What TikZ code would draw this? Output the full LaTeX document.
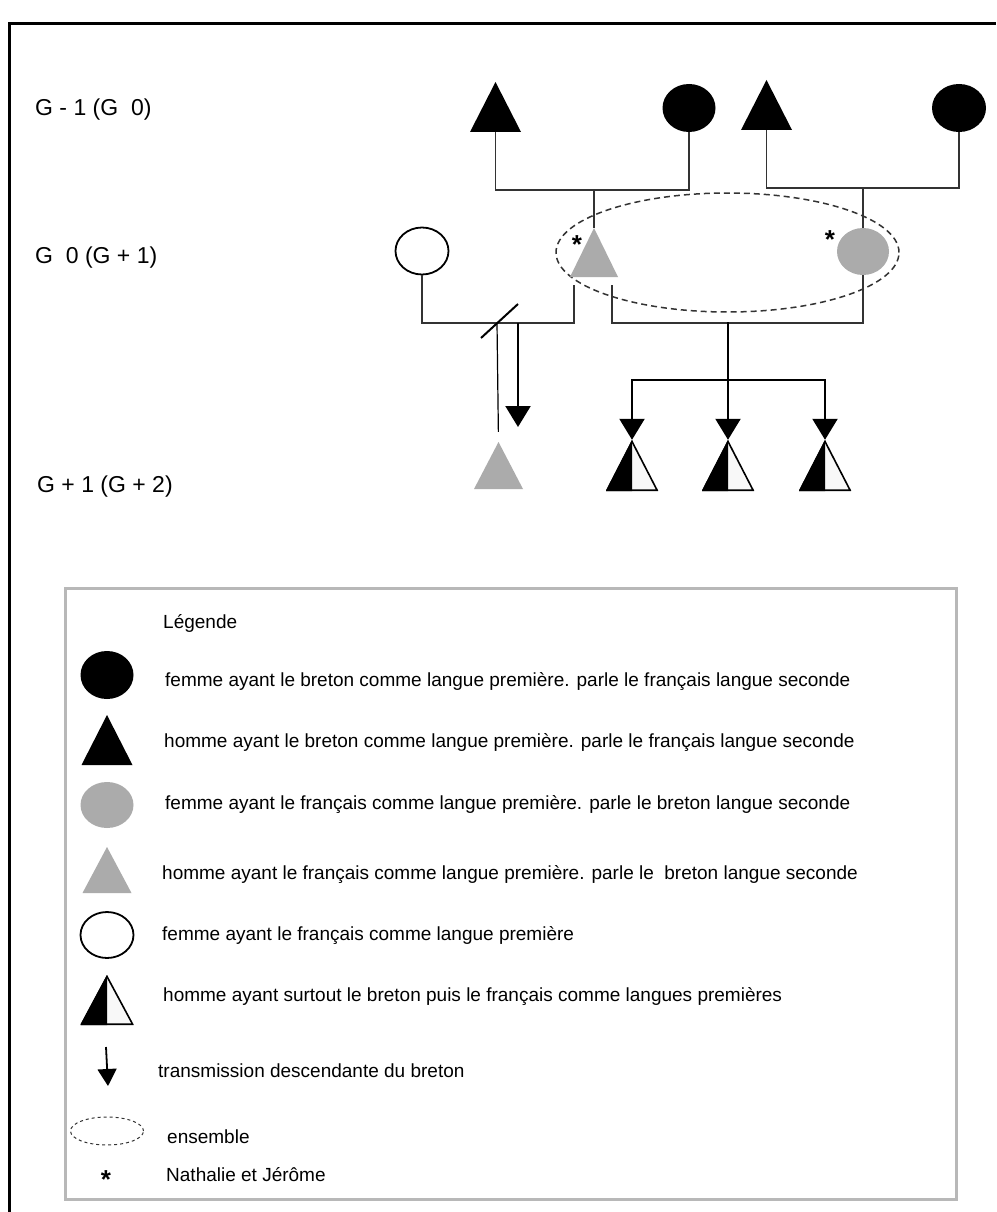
\documentclass[tikz,border=0pt]{standalone}
\usepackage{fontspec}
\setmainfont{Liberation Sans}
\usetikzlibrary{shapes.geometric}
\usetikzlibrary{arrows.meta}
\usetikzlibrary{calc}

\definecolor{gris}{HTML}{ABABAB}
\definecolor{trait}{HTML}{333333}
\definecolor{cadre}{HTML}{B8B8B8}
\definecolor{blanccasse}{HTML}{F8F8F8}

\tikzstyle{femme} = [ellipse, inner sep=0pt, minimum width=53pt, minimum height=48pt]
\tikzstyle{lien} = [draw=trait, line width=1.5pt]
\tikzstyle{lienfort} = [draw=black, line width=2.2pt, line cap=rect]
\tikzstyle{fleche} = [lienfort, line cap=butt, -{Triangle[width=25pt,length=21pt]}]
\tikzstyle{generation} = [anchor=west, inner sep=0pt, font=\fontsize{23}{27}\selectfont]
\tikzstyle{legende} = [anchor=west, inner sep=0pt, font=\fontsize{19}{23}\selectfont]
\tikzstyle{etoile} = [anchor=base, inner sep=0pt, font=\fontsize{26}{30}\selectfont\bfseries]
\newcommand{\ppb}{path picture bounding box}
\newcommand{\decalage}{8pt}

\tikzset{
  homme/.style={rectangle, inner sep=0pt, minimum width=51pt, minimum height=50pt,
    path picture={\fill[#1] (\ppb.south west) -- (\ppb.north) -- (\ppb.south east) -- cycle;}},
  mixte/.style={rectangle, inner sep=0pt, minimum width=52pt, minimum height=51pt,
    path picture={
      \fill[blanccasse] (\ppb.south west) -- (\ppb.north) -- (\ppb.south east) -- cycle;
      \fill[black] (\ppb.south west) -- (\ppb.north) -- (\ppb.south) -- cycle;
      \draw[line width=1.6pt] ([shift={(0.9pt,0.8pt)}]\ppb.south west) -- ([yshift=-1.5pt]\ppb.north)
        -- ([shift={(-0.9pt,0.8pt)}]\ppb.south east) -- cycle;}}
}

\begin{document}
\begin{tikzpicture}[x=1pt, y=1pt, node distance=65pt]
  \useasboundingbox (0,0) rectangle (996,-1212);
  \fill[white] (0,0) rectangle (996,-1212);

  % frame
  \draw[line width=3pt] (9,-1212) -- (9,-24) -- (996,-24);

  % generations
  \node[generation] (gmoins1) at (35,-110) {G - 1 (G\ \ 0)};
  \node[generation] (gzero)   at (35,-258) {G\ \ 0 (G + 1)};
  \node[generation] (gplus1)  at (37,-487) {G + 1 (G + 2)};

  % G - 1
  \node[homme=black]                        (gp1) at (495.5,-107) {};
  \node[femme, fill=black]                  (gm1) at (689,-108)   {};
  \node[homme=black]                        (gp2) at (766.5,-105) {};
  \node[femme, fill=black, minimum width=54pt] (gm2) at (959,-108) {};

  % G 0
  \node[ellipse, draw=trait, line width=1.5pt, dash pattern=on 6pt off 4pt,
        minimum width=343pt, minimum height=119pt] (ensemble) at (727.5,-252.5) {};
  \node[femme, draw=black, line width=1.8pt, minimum height=47pt] (exepouse) at (422,-251) {};
  \node[homme=gris, minimum width=48pt, minimum height=49pt]      (jerome)   at (594,-252.5) {};
  \node[femme, fill=gris, minimum width=52pt, minimum height=47pt] (nathalie) at (863,-251.5) {};
  \node[etoile] (etoile1) at (577,-253) {*};
  \node[etoile] (etoile2) at (830,-248) {*};

  % parents
  \coordinate (fam1) at (594,-190);
  \coordinate (fam2) at (863,-188);
  \draw[lien] (gp1.south) |- (gm1.south |- fam1) -- (gm1.south);
  \draw[lien] (fam1) -- (jerome.north);
  \draw[lien] (gp2.south) |- (gm2.south |- fam2) -- (gm2.south);
  \draw[lien] (fam2) -- (nathalie.north);

  % couples
  \coordinate (mariage) at (0,-323);
  \coordinate (jg) at ([xshift=-20pt, yshift=-\decalage]jerome.south);
  \coordinate (jd) at ([xshift=18pt, yshift=-\decalage]jerome.south);
  \draw[lien] (exepouse.south) -- (exepouse.south |- mariage) -| (jg);
  \draw[lien] (jd) -- (jd |- mariage) -| (nathalie.south);

  % G + 1
  \node[homme=gris, minimum width=49pt, minimum height=47pt] (fils) at (498.5,-465.5) {};
  \node[mixte] (enfant1) at (632,-465.5) {};
  \node[mixte] (enfant2) at (728,-465.5) {};
  \node[mixte] (enfant3) at (825,-465.5) {};

  % divorce
  \coordinate (divorce) at (497,-323);
  \draw[line width=2pt] ([shift={(-16pt,-15pt)}]divorce) -- ([shift={(21pt,19pt)}]divorce);
  \draw[draw=black, line width=1.2pt, shorten >=10pt] (divorce) -- (fils.north);
  \coordinate (transmission) at (518,-427);
  \draw[fleche] (transmission |- mariage) -- (transmission);

  % fratrie
  \coordinate (fratrie) at (728,-380);
  \draw[lienfort] (fratrie |- mariage) -- (fratrie);
  \draw[lienfort] (enfant1.north |- fratrie) -- (enfant3.north |- fratrie);
  \foreach \n in {1,2,3}
    \draw[fleche] (enfant\n.north |- fratrie) -- (enfant\n.north);

  % legende
  \draw[draw=cadre, line width=3pt] (65,-588) rectangle (956,-1199);
  \node[legende] (tlegende) at (163,-623) {Légende};

  \node[femme, fill=black]                                  (lfnoire)  at (107,-675) {};
  \node[homme=black, below of=lfnoire]                      (lhnoir)   {};
  \node[femme, fill=gris, below of=lhnoir, minimum height=46pt] (lfgrise)  {};
  \node[homme=gris, below of=lfgrise, minimum width=49pt, minimum height=46pt] (lhgris) {};
  \node[femme, draw=black, line width=1.8pt, below of=lhgris, minimum height=46pt] (lfblanche) {};
  \node[mixte, below of=lfblanche, minimum width=53pt, minimum height=50pt] (lmixte) {};
  \coordinate (lfleche) at (108,-1086);
  \draw[draw=black, line width=1.8pt, -{Triangle[width=19pt,length=17pt]}]
    ([shift={(-2pt,39pt)}]lfleche) -- (lfleche);
  \node[ellipse, draw=trait, line width=1pt, dash pattern=on 3pt off 3pt,
        minimum width=73pt, minimum height=28pt] (lensemble) at (107,-1131) {};
  \node[etoile] (letoile) at (106,-1188) {*};

  \node[legende] (t1) at (165,-682)  {femme ayant le breton comme langue première. parle le français langue seconde};
  \node[legende] (t2) at (164,-743)  {homme ayant le breton comme langue première. parle le français langue seconde};
  \node[legende] (t3) at (165,-805)  {femme ayant le français comme langue première. parle le breton langue seconde};
  \node[legende] (t4) at (162,-875)  {homme ayant le français comme langue première. parle le\ \ breton langue seconde};
  \node[legende] (t5) at (162,-936)  {femme ayant le français comme langue première};
  \node[legende] (t6) at (163,-997)  {homme ayant surtout le breton puis le français comme langues premières};
  \node[legende] (t7) at (158,-1071) {transmission descendante du breton};
  \node[legende] (t8) at (167,-1137) {ensemble};
  \node[legende] (t9) at (166,-1175) {Nathalie et Jérôme};
\end{tikzpicture}
\end{document}
